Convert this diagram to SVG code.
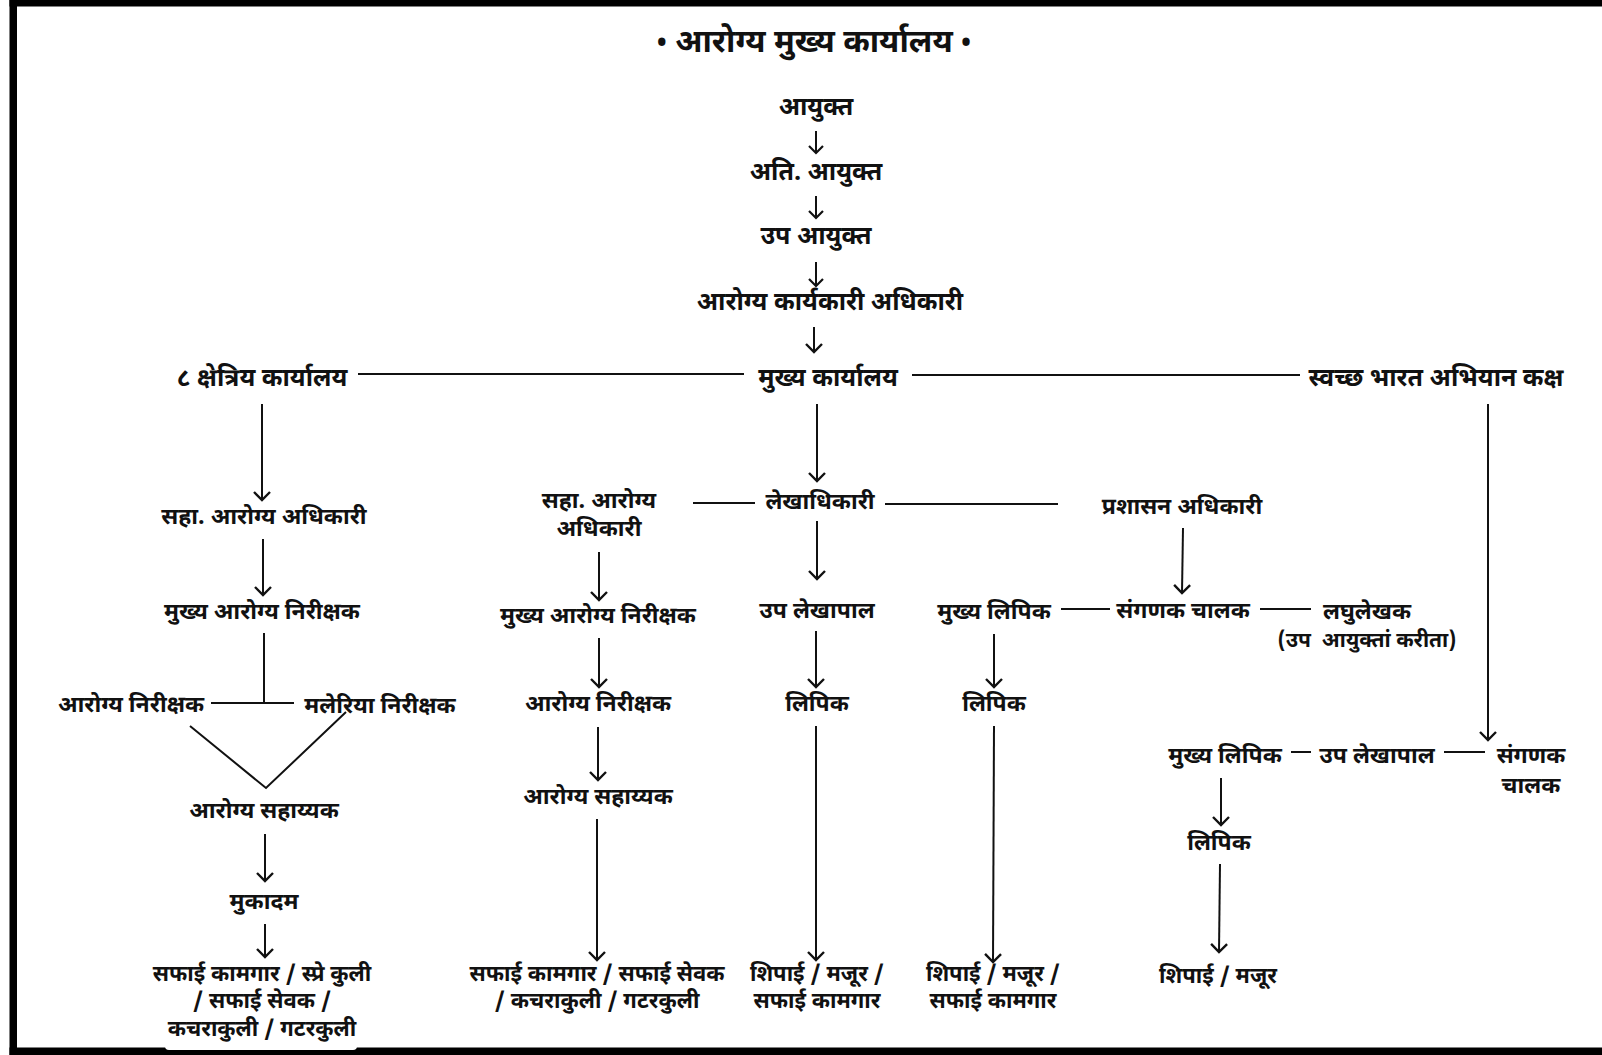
<svg xmlns="http://www.w3.org/2000/svg" width="1602" height="1055" viewBox="0 0 1602 1055">
<style>
text{font-family:"Noto Sans Devanagari","Noto Sans","DejaVu Sans",sans-serif;font-weight:700;font-size:23px;fill:#111;text-anchor:middle}
.title{font-size:32px}
.dot{font-size:26px}
.big{font-size:25px}
.sl{font-size:22px}
.small{font-size:21px;white-space:pre}
.c line,.c polyline{stroke:#111;stroke-width:2;fill:none}
.a{marker-end:url(#ah)}
.as{marker-end:url(#ahs)}
</style>
<defs>
<marker id="ah" markerUnits="userSpaceOnUse" markerWidth="24" markerHeight="24" viewBox="0 0 24 24" refX="12" refY="12" orient="auto" overflow="visible">
<path d="M4,4 L12,12 L4,20" fill="none" stroke="#111" stroke-width="2.4"/>
</marker>
<marker id="ahs" markerUnits="userSpaceOnUse" markerWidth="20" markerHeight="20" viewBox="0 0 20 20" refX="10" refY="10" orient="auto" overflow="visible">
<path d="M3,3 L10,10 L3,17" fill="none" stroke="#111" stroke-width="2.2"/>
</marker>
</defs>
<rect width="1602" height="1055" fill="#fff"/>
<g id="frame">
<rect x="9.5" y="0" width="1592.5" height="6.5" fill="#000"/>
<rect x="9.5" y="0" width="7.5" height="1055" fill="#000"/>
<rect x="9.5" y="1047.5" width="1592.5" height="7.5" fill="#000"/>
<rect x="165" y="1040" width="192" height="10" rx="4" fill="#fff"/>
</g>
<g id="title"><text class="title" x="814" y="52"><tspan class="dot">•</tspan> आरोग्य मुख्य कार्यालय <tspan class="dot">•</tspan></text></g>
<g class="c" id="connectors">
<line class="as" x1="816" y1="131" x2="816" y2="153"/>
<line class="as" x1="816" y1="196" x2="816" y2="218"/>
<line class="as" x1="816" y1="262" x2="816" y2="286"/>
<line class="a" x1="814" y1="327" x2="814" y2="352"/>
<line x1="358" y1="374" x2="744" y2="374"/>
<line x1="912" y1="375" x2="1300" y2="375"/>
<line class="a" x1="262" y1="404" x2="262" y2="500"/>
<line class="a" x1="817" y1="404" x2="817" y2="481"/>
<line class="a" x1="1488" y1="404" x2="1488" y2="740"/>
<line class="a" x1="263" y1="539" x2="263" y2="595"/>
<line x1="264" y1="633" x2="264" y2="703"/>
<line x1="211" y1="703" x2="294" y2="703"/>
<polyline points="190,726 266,788 346,712"/>
<line class="a" x1="265" y1="834" x2="265" y2="881"/>
<line class="a" x1="265" y1="924" x2="265" y2="957"/>
<line x1="693" y1="503" x2="755" y2="503"/>
<line x1="885" y1="504" x2="1058" y2="504"/>
<line class="a" x1="599" y1="552" x2="599" y2="600"/>
<line class="a" x1="599" y1="638" x2="599" y2="687"/>
<line class="a" x1="598" y1="727" x2="598" y2="780"/>
<line class="a" x1="597" y1="819" x2="597" y2="960"/>
<line class="a" x1="817" y1="521" x2="817" y2="579"/>
<line class="a" x1="816" y1="631" x2="816" y2="687"/>
<line class="a" x1="816" y1="726" x2="816" y2="960"/>
<line class="a" x1="1183" y1="528" x2="1182" y2="593"/>
<line x1="1061" y1="609" x2="1110" y2="609"/>
<line x1="1260" y1="609" x2="1311" y2="609"/>
<line class="a" x1="994" y1="634" x2="994" y2="687"/>
<line class="a" x1="994" y1="726" x2="993" y2="962"/>
<line x1="1291" y1="752" x2="1311" y2="752"/>
<line x1="1444" y1="752" x2="1485" y2="752"/>
<line class="a" x1="1221" y1="778" x2="1221" y2="825"/>
<line class="a" x1="1220" y1="864" x2="1219" y2="952"/>
</g>
<g id="n1"><text class="big" x="816" y="115">आयुक्त</text></g>
<g id="n2"><text class="big" x="816" y="180">अति. आयुक्त</text></g>
<g id="n3"><text class="big" x="816" y="244">उप आयुक्त</text></g>
<g id="n4"><text class="big" x="830" y="310">आरोग्य कार्यकारी अधिकारी</text></g>
<g id="n5"><text class="big" x="262" y="386">८ क्षेत्रिय कार्यालय</text></g>
<g id="n6"><text class="big" x="828" y="386">मुख्य कार्यालय</text></g>
<g id="n7"><text class="big" x="1436" y="386">स्वच्छ भारत अभियान कक्ष</text></g>
<g id="n8"><text x="264" y="524">सहा. आरोग्य अधिकारी</text></g>
<g id="n9"><text x="262" y="619">मुख्य आरोग्य निरीक्षक</text></g>
<g id="n10"><text x="131" y="712">आरोग्य निरीक्षक</text></g>
<g id="n11"><text x="380" y="713">मलेरिया निरीक्षक</text></g>
<g id="n12"><text x="264" y="818">आरोग्य सहाय्यक</text></g>
<g id="n13"><text x="264" y="909">मुकादम</text></g>
<g id="n14"><text class="sl" x="262" y="981">सफाई कामगार / स्प्रे कुली</text><text class="sl" x="262" y="1008">/ सफाई सेवक /</text><text class="sl" x="262" y="1036">कचराकुली / गटरकुली</text></g>
<g id="n15"><text x="599" y="508">सहा. आरोग्य</text><text x="599" y="536">अधिकारी</text></g>
<g id="n16"><text x="820" y="509">लेखाधिकारी</text></g>
<g id="n17"><text x="1182" y="514">प्रशासन अधिकारी</text></g>
<g id="n18"><text x="598" y="623">मुख्य आरोग्य निरीक्षक</text></g>
<g id="n19"><text x="598" y="711">आरोग्य निरीक्षक</text></g>
<g id="n20"><text x="598" y="804">आरोग्य सहाय्यक</text></g>
<g id="n21"><text class="sl" x="597" y="981">सफाई कामगार / सफाई सेवक</text><text class="sl" x="597" y="1008">/ कचराकुली / गटरकुली</text></g>
<g id="n22"><text x="817" y="618">उप लेखापाल</text></g>
<g id="n23"><text x="817" y="711">लिपिक</text></g>
<g id="n24"><text class="sl" x="817" y="981">शिपाई / मजूर /</text><text class="sl" x="817" y="1008">सफाई कामगार</text></g>
<g id="n25"><text x="994" y="619">मुख्य लिपिक</text></g>
<g id="n26"><text x="1183" y="618">संगणक चालक</text></g>
<g id="n27"><text x="1367" y="619">लघुलेखक</text><text class="small" x="1367" y="647">(उप  आयुक्तां करीता)</text></g>
<g id="n28"><text x="994" y="711">लिपिक</text></g>
<g id="n29"><text class="sl" x="993" y="981">शिपाई / मजूर /</text><text class="sl" x="993" y="1008">सफाई कामगार</text></g>
<g id="n30"><text x="1225" y="763">मुख्य लिपिक</text></g>
<g id="n31"><text x="1377" y="763">उप लेखापाल</text></g>
<g id="n32"><text x="1531" y="763">संगणक</text><text x="1531" y="793">चालक</text></g>
<g id="n33"><text x="1219" y="850">लिपिक</text></g>
<g id="n34"><text class="sl" x="1218" y="983">शिपाई / मजूर</text></g>
</svg>
